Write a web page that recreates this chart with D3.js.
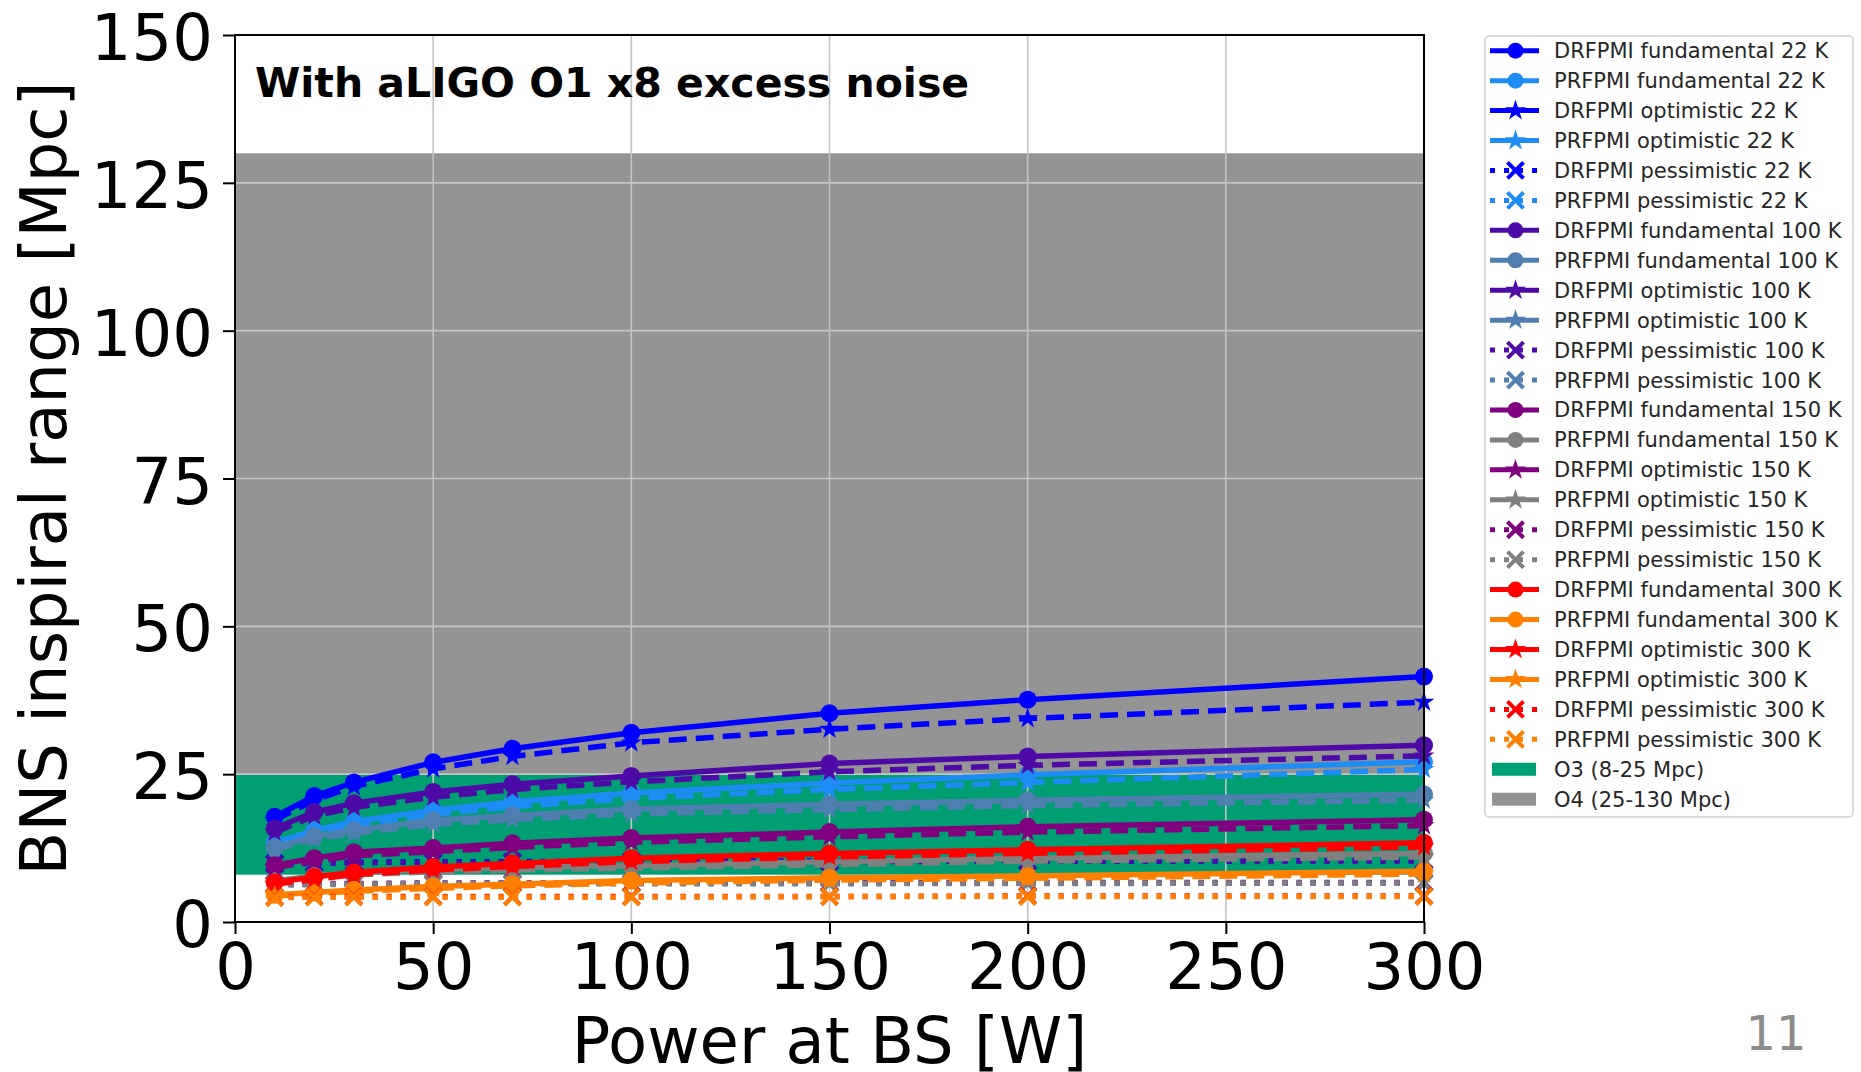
<!DOCTYPE html>
<html>
<head>
<meta charset="utf-8">
<script src="https://cdn.jsdelivr.net/npm/d3@7"></script>
<style>
  body { margin: 0; background: #fff; }
  text { font-family: "DejaVu Sans", sans-serif; }
</style>
</head>
<body>
<div id="chart"></div>
<script>
// Data
var powerW = [10, 20, 30, 50, 70, 100, 150, 200, 300];

var drFund22 = [17.8, 21.3, 23.6, 27.0, 29.3, 32.0, 35.3, 37.6, 41.5];
var prFund22 = [13.4, 15.5, 17.0, 18.9, 20.3, 21.8, 23.5, 24.9, 27.1];
var drOpt22 = [17.2, 20.6, 22.9, 25.9, 28.0, 30.3, 32.6, 34.4, 37.2];
var prOpt22 = [13.0, 15.0, 16.4, 18.2, 19.5, 20.9, 22.4, 23.6, 25.8];
var drPess22 = [9.9, 10.0, 10.1, 10.2, 10.2, 10.3, 10.3, 10.3, 10.4];
var prPess22 = [6.3, 6.4, 6.4, 6.5, 6.5, 6.5, 6.5, 6.6, 6.6];

var drFund100 = [15.8, 18.6, 20.1, 22.0, 23.3, 24.7, 26.8, 28.0, 29.9];
var prFund100 = [12.6, 14.5, 15.5, 17.2, 18.0, 19.1, 19.9, 20.6, 21.6];
var drOpt100 = [15.2, 17.9, 19.4, 21.1, 22.4, 23.7, 25.4, 26.5, 28.1];
var prOpt100 = [12.2, 14.0, 15.0, 16.5, 17.3, 18.3, 19.0, 19.7, 20.6];
var drPess100 = [9.8, 9.9, 10.0, 10.1, 10.1, 10.2, 10.2, 10.3, 10.3];
var prPess100 = [6.3, 6.3, 6.4, 6.4, 6.5, 6.5, 6.5, 6.5, 6.6];

var drFund150 = [9.6, 10.8, 11.8, 12.5, 13.3, 14.2, 15.2, 16.1, 17.3];
var prFund150 = [7.0, 7.8, 8.3, 8.9, 9.2, 9.5, 10.2, 10.8, 11.6];
var drOpt150 = [9.2, 10.3, 11.2, 11.9, 12.6, 13.5, 14.4, 15.2, 16.3];
var prOpt150 = [6.8, 7.5, 8.0, 8.5, 8.8, 9.1, 9.7, 10.3, 11.0];
var drPess150 = [6.4, 6.5, 6.5, 6.6, 6.6, 6.6, 6.7, 6.7, 6.7];
var prPess150 = [6.3, 6.4, 6.4, 6.5, 6.5, 6.5, 6.5, 6.6, 6.6];

var drFund300 = [6.7, 7.6, 8.4, 9.3, 9.9, 10.8, 11.6, 12.2, 13.4];
var prFund300 = [4.6, 5.0, 5.4, 6.0, 6.4, 7.0, 7.5, 7.8, 8.6];
var drOpt300 = [6.4, 7.2, 8.0, 8.8, 9.4, 10.2, 11.0, 11.6, 12.7];
var prOpt300 = [4.4, 4.8, 5.2, 5.7, 6.1, 6.6, 7.1, 7.4, 8.1];
var drPess300 = [4.2, 4.3, 4.3, 4.3, 4.3, 4.3, 4.3, 4.4, 4.4];
var prPess300 = [4.1, 4.2, 4.2, 4.2, 4.2, 4.2, 4.3, 4.3, 4.3];

var seriesNames = [
  "DRFPMI fundamental 22 K", "PRFPMI fundamental 22 K", "DRFPMI optimistic 22 K", "PRFPMI optimistic 22 K",
  "DRFPMI pessimistic 22 K", "PRFPMI pessimistic 22 K",
  "DRFPMI fundamental 100 K", "PRFPMI fundamental 100 K", "DRFPMI optimistic 100 K", "PRFPMI optimistic 100 K",
  "DRFPMI pessimistic 100 K", "PRFPMI pessimistic 100 K",
  "DRFPMI fundamental 150 K", "PRFPMI fundamental 150 K", "DRFPMI optimistic 150 K", "PRFPMI optimistic 150 K",
  "DRFPMI pessimistic 150 K", "PRFPMI pessimistic 150 K",
  "DRFPMI fundamental 300 K", "PRFPMI fundamental 300 K", "DRFPMI optimistic 300 K", "PRFPMI optimistic 300 K",
  "DRFPMI pessimistic 300 K", "PRFPMI pessimistic 300 K"
];
var seriesValues = [
  drFund22, prFund22, drOpt22, prOpt22, drPess22, prPess22,
  drFund100, prFund100, drOpt100, prOpt100, drPess100, prPess100,
  drFund150, prFund150, drOpt150, prOpt150, drPess150, prPess150,
  drFund300, prFund300, drOpt300, prOpt300, drPess300, prPess300
];
// colour per temperature: [DRFPMI, PRFPMI]
var tempColors = [
  ["#0000ff", "#1e8cf5"],
  ["#4e0aa6", "#4f7fb0"],
  ["#800080", "#808080"],
  ["#ff0000", "#ff8000"]
];
var caseNames = ["fundamental", "optimistic", "pessimistic"];

var bandNames = ["O3 (8-25 Mpc)", "O4 (25-130 Mpc)"];
var bandRanges = [[8, 25], [25, 130]];
var bandColors = ["#009e73", "#949494"];

var xTicks = [0, 50, 100, 150, 200, 250, 300];
var yTicks = [0, 25, 50, 75, 100, 125, 150];

var svgWidth = 1861;
var svgHeight = 1072;

var margin = {
  top: 35,
  right: 437,
  bottom: 150,
  left: 235
};

var width = svgWidth - margin.left - margin.right;
var height = svgHeight - margin.top - margin.bottom;

var svg = d3.select("#chart")
  .append("svg")
  .attr("width", svgWidth)
  .attr("height", svgHeight);

svg.append("rect")
  .attr("width", svgWidth)
  .attr("height", svgHeight)
  .attr("fill", "#fff");

var chartGroup = svg.append("g")
  .attr("transform", `translate(${margin.left}, ${margin.top})`);

// scales
var xScale = d3.scaleLinear().domain([0, 300]).range([0, width]);
var yScale = d3.scaleLinear().domain([0, 150]).range([height, 0]);

// build series table
var series = seriesNames.map(function(name, i) {
  var t = Math.floor(i / 6);
  var k = i % 6;
  return {
    name: name,
    color: tempColors[t][k % 2],
    kind: caseNames[Math.floor(k / 2)],
    values: seriesValues[i].map(function(v, j) { return {x: powerW[j], y: v}; })
  };
});

// bands
chartGroup.selectAll(".band")
  .data(bandRanges)
  .enter()
  .append("rect")
  .attr("x", 0)
  .attr("width", width)
  .attr("y", d => yScale(d[1]))
  .attr("height", d => yScale(d[0]) - yScale(d[1]))
  .attr("fill", (d, i) => bandColors[i]);

// grid
chartGroup.selectAll(".gx")
  .data(xTicks.slice(1, -1))
  .enter()
  .append("line")
  .attr("x1", d => xScale(d)).attr("x2", d => xScale(d))
  .attr("y1", 0).attr("y2", height)
  .attr("stroke", "#c4c4c4").attr("stroke-width", 1.6);

chartGroup.selectAll(".gy")
  .data(yTicks.slice(1, -1))
  .enter()
  .append("line")
  .attr("y1", d => yScale(d)).attr("y2", d => yScale(d))
  .attr("x1", 0).attr("x2", width)
  .attr("stroke", "#c4c4c4").attr("stroke-width", 1.6);

// markers
var starPath = d3.symbol().type(d3.symbolStar).size(135)();
var xr = 8;
var xPath = `M${-xr},${-xr}L${xr},${xr}M${-xr},${xr}L${xr},${-xr}`;

function dashFor(kind) {
  if (kind === "optimistic") return "18,9";
  if (kind === "pessimistic") return "5,9";
  return null;
}

function drawMarker(g, kind, color, cx, cy, r) {
  if (kind === "fundamental") {
    g.append("circle").attr("cx", cx).attr("cy", cy).attr("r", r)
      .attr("fill", color);
  } else if (kind === "optimistic") {
    g.append("path").attr("d", starPath)
      .attr("transform", `translate(${cx},${cy})`)
      .attr("fill", color);
  } else {
    g.append("path").attr("d", xPath)
      .attr("transform", `translate(${cx},${cy})`)
      .attr("fill", "none").attr("stroke", color).attr("stroke-width", 4);
  }
}

var line = d3.line()
  .x(d => xScale(d.x))
  .y(d => yScale(d.y));

// lines
series.forEach(function(s) {
  var g = chartGroup.append("g");
  g.append("path")
    .datum(s.values)
    .attr("d", line)
    .attr("fill", "none")
    .attr("stroke", s.color)
    .attr("stroke-width", 5.5)
    .attr("stroke-dasharray", dashFor(s.kind));
  s.values.forEach(function(d) {
    drawMarker(g, s.kind, s.color, xScale(d.x), yScale(d.y), 9);
  });
});

// axes
var bottomAxis = d3.axisBottom(xScale).tickValues(xTicks).tickSize(12).tickPadding(10);
var leftAxis = d3.axisLeft(yScale).tickValues(yTicks).tickSize(12).tickPadding(10);

var xAxisG = chartGroup.append("g")
  .attr("transform", `translate(0, ${height})`)
  .call(bottomAxis);

var yAxisG = chartGroup.append("g")
  .call(leftAxis);

[xAxisG, yAxisG].forEach(function(a) {
  a.select(".domain").remove();
  a.selectAll("line").attr("stroke", "#000").attr("stroke-width", 2);
  a.selectAll("text").attr("font-size", 64).attr("font-family", "DejaVu Sans").attr("fill", "#000");
});
yAxisG.selectAll("text").attr("dy", "0.385em");

// frame
chartGroup.append("rect")
  .attr("width", width)
  .attr("height", height)
  .attr("fill", "none")
  .attr("stroke", "#000")
  .attr("stroke-width", 2);

// annotation
chartGroup.append("text")
  .attr("x", 20)
  .attr("y", 62)
  .attr("font-size", 41)
  .attr("font-weight", "bold")
  .attr("fill", "#000")
  .text("With aLIGO O1 x8 excess noise");

// axis labels
svg.append("text")
  .attr("x", margin.left + width / 2)
  .attr("y", 1063)
  .attr("text-anchor", "middle")
  .attr("font-size", 64)
  .text("Power at BS [W]");

svg.append("text")
  .attr("transform", `translate(66, ${margin.top + height / 2}) rotate(-90)`)
  .attr("text-anchor", "middle")
  .attr("font-size", 64)
  .text("BNS inspiral range [Mpc]");

// page number
svg.append("text")
  .attr("x", 1776)
  .attr("y", 1050)
  .attr("text-anchor", "middle")
  .attr("font-size", 48)
  .attr("font-family", "Noto Sans")
  .attr("fill", "#8c8c8c")
  .text("11");

// legend
var legend = svg.append("g").attr("transform", "translate(1485, 36)");
var rowH = 29.94;
var row0 = 14.7;

legend.append("rect")
  .attr("width", 368)
  .attr("height", 781)
  .attr("rx", 4)
  .attr("fill", "#fff")
  .attr("stroke", "#d0d0d0")
  .attr("stroke-width", 1.5);

series.forEach(function(s, i) {
  var y = row0 + i * rowH;
  var g = legend.append("g");
  g.append("line")
    .attr("x1", 5).attr("x2", 54)
    .attr("y1", y).attr("y2", y)
    .attr("stroke", s.color)
    .attr("stroke-width", 5)
    .attr("stroke-dasharray", s.kind === "pessimistic" ? "5,9" : null);
  drawMarker(g, s.kind, s.color, 30.5, y, 8);
  g.append("text")
    .attr("x", 69)
    .attr("y", y + 7.5)
    .attr("font-size", 21)
    .attr("fill", "#262626")
    .text(s.name);
});

bandNames.forEach(function(name, i) {
  var y = row0 + (series.length + i) * rowH;
  legend.append("rect")
    .attr("x", 7).attr("y", y - 6.5)
    .attr("width", 44).attr("height", 13)
    .attr("fill", bandColors[i]);
  legend.append("text")
    .attr("x", 69)
    .attr("y", y + 7.5)
    .attr("font-size", 21)
    .attr("fill", "#262626")
    .text(name);
});
</script>
</body>
</html>
